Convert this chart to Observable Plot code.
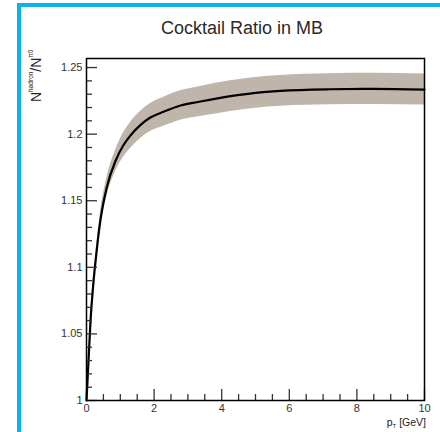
<!DOCTYPE html>
<html>
<head>
<meta charset="utf-8">
<script src="https://cdn.jsdelivr.net/npm/d3@7"></script>
<script src="https://cdn.jsdelivr.net/npm/@observablehq/plot@0.6"></script>
<style>
  html, body { margin: 0; padding: 0; background: white; }
  #wrap { position: relative; width: 440px; height: 432px; overflow: hidden; background: white; font-family: "Liberation Sans", Arial, sans-serif; }
  #border { position: absolute; left: 17px; top: 3px; width: 500px; height: 500px; border-left: 4px solid #0ab2ee; border-top: 4px solid #0ab2ee; pointer-events: none; }
  #title { position: absolute; left: 0; width: 484px; top: 18px; text-align: center; font-size: 18px; color: #2a2a2a; }
  #ylab { position: absolute; left: 29px; top: 102px; transform-origin: 0 0; transform: rotate(-90deg); font-size: 14px; line-height: 15px; color: #222; white-space: nowrap; }
  #ylab sup { font-size: 6.5px; vertical-align: 8px; line-height: 0; }
  #xlab { position: absolute; right: 14px; top: 416px; font-size: 10.5px; color: #222; white-space: nowrap; }
  #xlab sub { font-size: 6px; vertical-align: -2px; }
  #chart { position: absolute; left: 0; top: 0; }
</style>
</head>
<body>
<div id="wrap">
  <div id="chart"></div>
  <div id="border"></div>
  <div id="title">Cocktail Ratio in MB</div>
  <div id="ylab">N<sup>hadron</sup>/N<sup>π0</sup></div>
  <div id="xlab">p<sub>T</sub> [GeV]</div>
</div>
<script>
const pt       = [0, 0.05, 0.12, 0.2, 0.27, 0.41, 0.6, 0.86, 1.1, 1.3, 1.6, 1.89, 2.3, 2.78, 3.37, 4.26, 5.0, 5.74, 7.2, 8.5, 10];
const ratio    = [1.0, 1.025, 1.06, 1.087, 1.105, 1.135, 1.16, 1.18, 1.192, 1.199, 1.207, 1.2125, 1.217, 1.2215, 1.2245, 1.2285, 1.231, 1.2325, 1.2337, 1.234, 1.2335];
const bandLow  = [1.0, 1.0242, 1.058, 1.0836, 1.1007, 1.1292, 1.153, 1.172, 1.1828, 1.1892, 1.1968, 1.2019, 1.2061, 1.2105, 1.2132, 1.217, 1.2194, 1.2209, 1.222, 1.2223, 1.2218];
const bandHigh = [1.0, 1.0258, 1.062, 1.0904, 1.1093, 1.1408, 1.167, 1.188, 1.2012, 1.2088, 1.2172, 1.2231, 1.2279, 1.2325, 1.2358, 1.24, 1.2426, 1.2441, 1.2454, 1.2457, 1.2452];

const xMajor = [0, 2, 4, 6, 8, 10];
const xMinor = [0.5, 1, 1.5, 2.5, 3, 3.5, 4.5, 5, 5.5, 6.5, 7, 7.5, 8.5, 9, 9.5];
const yMajor = [1, 1.05, 1.1, 1.15, 1.2, 1.25];
const yMinor = [1.01, 1.02, 1.03, 1.04, 1.06, 1.07, 1.08, 1.09, 1.11, 1.12, 1.13, 1.14, 1.16, 1.17, 1.18, 1.19, 1.21, 1.22, 1.23, 1.24];

const data = pt.map((x, i) => ({x, r: ratio[i], lo: bandLow[i], hi: bandHigh[i]}));

const chart = Plot.plot({
  width: 440,
  height: 432,
  marginTop: 58,
  marginLeft: 86,
  marginRight: 16,
  marginBottom: 32,
  style: {background: "white", fontFamily: "'Liberation Sans', Arial, sans-serif", fontSize: "11px", color: "#333"},
  x: {domain: [0, 10]},
  y: {domain: [1, 1.2568]},
  marks: [
    Plot.areaY(data, {x: "x", y1: "lo", y2: "hi", fill: "#bfb5ab", curve: "monotone-x"}),
    Plot.line(data, {x: "x", y: "r", stroke: "black", strokeWidth: 2.2, curve: "monotone-x"}),
    Plot.axisX({ticks: xMinor, tickSize: -6, text: null, label: null, strokeWidth: 1.3}),
    Plot.axisX({ticks: xMajor, tickSize: -11, tickPadding: 15, label: null, tickFormat: d => String(d), strokeWidth: 1.3}),
    Plot.axisY({ticks: yMinor, tickSize: -6, text: null, label: null, strokeWidth: 1.3}),
    Plot.axisY({ticks: yMajor, tickSize: -11, tickPadding: 15, label: null, tickFormat: d => String(+d.toFixed(2)), strokeWidth: 1.3}),
    Plot.frame({stroke: "black", strokeWidth: 1.5})
  ]
});
document.getElementById("chart").appendChild(chart);
</script>
</body>
</html>
